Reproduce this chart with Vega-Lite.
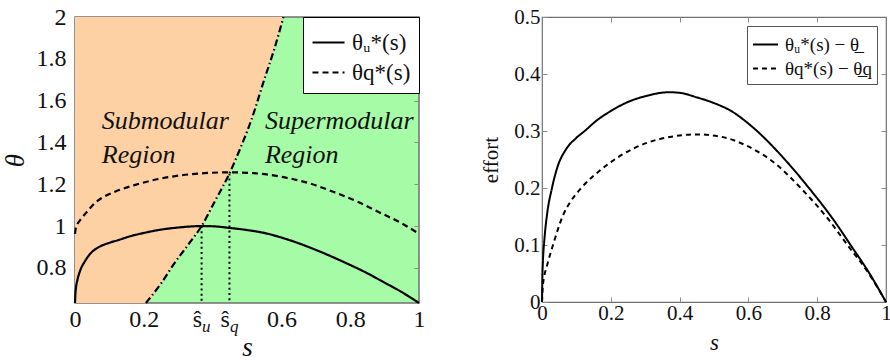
{
  "$schema": "https://vega.github.io/schema/vega-lite/v6.json",
  "padding": {"left": 0, "top": 4, "right": 0, "bottom": 0},
  "background": "white",
  "config": {
    "font": "Liberation Serif, DejaVu Serif, serif",
    "axis": {"labelFont": "Liberation Serif, DejaVu Serif, serif", "titleFont": "Liberation Serif, DejaVu Serif, serif", "labelColor": "#111", "titleColor": "#111", "grid": false, "domain": false, "tickColor": "#8c8c8c", "titleFontWeight": "normal"},
    "legend": {"labelFont": "Liberation Serif, DejaVu Serif, serif", "labelColor": "#111"},
    "text": {"font": "Liberation Serif, DejaVu Serif, serif"}
  },
  "datasets": {
    "curves": [
      {"s": 0, "series": "u", "effort": 0, "theta": 0.632},
      {"s": 0.001, "series": "u", "effort": 0.04, "theta": 0.672},
      {"s": 0.003, "series": "u", "effort": 0.075, "theta": 0.707},
      {"s": 0.007, "series": "u", "effort": 0.11, "theta": 0.742},
      {"s": 0.015, "series": "u", "effort": 0.155, "theta": 0.787},
      {"s": 0.029, "series": "u", "effort": 0.2, "theta": 0.832},
      {"s": 0.045, "series": "u", "effort": 0.237, "theta": 0.869},
      {"s": 0.07, "series": "u", "effort": 0.268, "theta": 0.9},
      {"s": 0.1, "series": "u", "effort": 0.288, "theta": 0.92},
      {"s": 0.124, "series": "u", "effort": 0.3, "theta": 0.932},
      {"s": 0.16, "series": "u", "effort": 0.319, "theta": 0.951},
      {"s": 0.2, "series": "u", "effort": 0.335, "theta": 0.967},
      {"s": 0.25, "series": "u", "effort": 0.351, "theta": 0.983},
      {"s": 0.3, "series": "u", "effort": 0.361, "theta": 0.993},
      {"s": 0.368, "series": "u", "effort": 0.368, "theta": 1.0},
      {"s": 0.4, "series": "u", "effort": 0.367, "theta": 0.999},
      {"s": 0.45, "series": "u", "effort": 0.359, "theta": 0.991},
      {"s": 0.5, "series": "u", "effort": 0.349, "theta": 0.981},
      {"s": 0.553, "series": "u", "effort": 0.334, "theta": 0.966},
      {"s": 0.6, "series": "u", "effort": 0.313, "theta": 0.945},
      {"s": 0.625, "series": "u", "effort": 0.3, "theta": 0.932},
      {"s": 0.7, "series": "u", "effort": 0.254, "theta": 0.886},
      {"s": 0.776, "series": "u", "effort": 0.2, "theta": 0.832},
      {"s": 0.85, "series": "u", "effort": 0.142, "theta": 0.774},
      {"s": 0.897, "series": "u", "effort": 0.1, "theta": 0.732},
      {"s": 0.95, "series": "u", "effort": 0.052, "theta": 0.684},
      {"s": 1, "series": "u", "effort": 0, "theta": 0.632},
      {"s": 0, "series": "q", "effort": 0, "theta": 0.963},
      {"s": 0.002, "series": "q", "effort": 0.025, "theta": 0.988},
      {"s": 0.006, "series": "q", "effort": 0.043, "theta": 1.006},
      {"s": 0.015, "series": "q", "effort": 0.065, "theta": 1.028},
      {"s": 0.032, "series": "q", "effort": 0.1, "theta": 1.063},
      {"s": 0.061, "series": "q", "effort": 0.152, "theta": 1.115},
      {"s": 0.085, "series": "q", "effort": 0.178, "theta": 1.141},
      {"s": 0.114, "series": "q", "effort": 0.2, "theta": 1.163},
      {"s": 0.173, "series": "q", "effort": 0.233, "theta": 1.196},
      {"s": 0.226, "series": "q", "effort": 0.256, "theta": 1.219},
      {"s": 0.309, "series": "q", "effort": 0.28, "theta": 1.243},
      {"s": 0.376, "series": "q", "effort": 0.29, "theta": 1.253},
      {"s": 0.45, "series": "q", "effort": 0.294, "theta": 1.257},
      {"s": 0.52, "series": "q", "effort": 0.29, "theta": 1.253},
      {"s": 0.592, "series": "q", "effort": 0.275, "theta": 1.238},
      {"s": 0.684, "series": "q", "effort": 0.24, "theta": 1.203},
      {"s": 0.752, "series": "q", "effort": 0.2, "theta": 1.163},
      {"s": 0.83, "series": "q", "effort": 0.147, "theta": 1.11},
      {"s": 0.888, "series": "q", "effort": 0.1, "theta": 1.063},
      {"s": 0.95, "series": "q", "effort": 0.05, "theta": 1.013},
      {"s": 1, "series": "q", "effort": 0, "theta": 0.963}
    ],
    "orange": [
      {"s": 0, "lo": 0.632, "hi": 2},
      {"s": 0.206, "lo": 0.632, "hi": 2},
      {"s": 0.25, "lo": 0.725, "hi": 2},
      {"s": 0.286, "lo": 0.815, "hi": 2},
      {"s": 0.33, "lo": 0.913, "hi": 2},
      {"s": 0.368, "lo": 1.0, "hi": 2},
      {"s": 0.407, "lo": 1.12, "hi": 2},
      {"s": 0.449, "lo": 1.252, "hi": 2},
      {"s": 0.48, "lo": 1.37, "hi": 2},
      {"s": 0.511, "lo": 1.5, "hi": 2},
      {"s": 0.552, "lo": 1.71, "hi": 2},
      {"s": 0.58, "lo": 1.85, "hi": 2},
      {"s": 0.606, "lo": 2.0, "hi": 2}
    ],
    "shat": [
      {"s": 0.368, "top": 1.0, "bottom": 0.632, "sub": "u"},
      {"s": 0.449, "top": 1.252, "bottom": 0.632, "sub": "q"}
    ],
    "regions": [
      {"s": 0.078, "th": 1.463, "t": "Submodular"},
      {"s": 0.078, "th": 1.303, "t": "Region"},
      {"s": 0.552, "th": 1.463, "t": "Supermodular"},
      {"s": 0.552, "th": 1.303, "t": "Region"}
    ]
  },
  "resolve": {"scale": {"strokeDash": "independent"}, "legend": {"strokeDash": "independent"}},
  "spacing": 54,
  "hconcat": [
    {
      "width": 344,
      "height": 286,
      "view": {"fill": "#a6fba6", "stroke": "#707070", "strokeWidth": 1.5},
      "resolve": {"axis": {"x": "independent", "y": "independent"}},
      "layer": [
        {
          "data": {"name": "orange"},
          "mark": {"type": "area", "color": "#fdd1a3", "interpolate": "monotone"},
          "encoding": {
            "x": {"field": "s", "type": "quantitative", "scale": {"domain": [0, 1], "nice": false, "zero": false},
              "axis": {"title": "s", "values": [0, 0.2, 0.368, 0.449, 0.6, 0.8, 1],
                "labelExpr": "datum.value==0.368||datum.value==0.449?'ŝ':format(datum.value,'~g')",
                "labelAlign": {"condition": {"test": "datum.value==0.368||datum.value==0.449", "value": "right"}, "value": "center"},
                "ticks": false, "labelPadding": 4, "labelFontSize": 24, "titleFontSize": 27, "titleFontStyle": "italic", "titlePadding": 3, "labelFlush": false}},
            "y": {"field": "lo", "type": "quantitative", "scale": {"domain": [0.632, 2], "nice": false, "zero": false},
              "axis": {"title": "θ", "values": [0.8, 1, 1.2, 1.4, 1.6, 1.8, 2], "labelExpr": "format(datum.value,'~g')",
                "ticks": false, "labelPadding": 9, "labelFontSize": 24, "titleFontSize": 27, "titleFontStyle": "italic", "titlePadding": 7, "labelFlush": false}},
            "y2": {"field": "hi"}
          }
        },
        {
          "data": {"name": "orange"},
          "transform": [{"filter": "datum.s >= 0.2"}],
          "mark": {"type": "line", "color": "black", "strokeWidth": 2.2, "strokeDash": [7, 3, 1.5, 3], "interpolate": "monotone"},
          "encoding": {
            "x": {"field": "s", "type": "quantitative", "axis": null},
            "y": {"field": "lo", "type": "quantitative",
              "axis": {"orient": "right", "values": [0.8, 1, 1.2, 1.4, 1.6, 1.8], "labels": false, "ticks": true, "tickSize": -5, "title": null}}
          }
        },
        {
          "data": {"name": "shat"},
          "mark": {"type": "rule", "color": "black", "strokeWidth": 2, "strokeDash": [2, 3.2]},
          "encoding": {
            "x": {"field": "s", "type": "quantitative",
              "axis": {"orient": "bottom", "values": [0.368, 0.449], "labelExpr": "datum.value==0.368?'u':'q'", "ticks": false, "title": null,
                "labelAlign": "left", "labelFontSize": 17, "labelFontStyle": "italic", "labelPadding": 15, "labelFlush": false}},
            "y": {"field": "top", "type": "quantitative", "axis": null},
            "y2": {"field": "bottom"}
          }
        },
        {
          "data": {"name": "curves"},
          "mark": {"type": "line", "color": "black", "strokeWidth": 2.2, "interpolate": "monotone"},
          "encoding": {
            "x": {"field": "s", "type": "quantitative", "axis": null},
            "y": {"field": "theta", "type": "quantitative", "axis": null},
            "strokeDash": {"field": "series", "type": "nominal", "scale": {"domain": ["u", "q"], "range": [[1, 0], [6, 4]]},
              "legend": {"title": null, "orient": "top-right", "offset": 0, "labelExpr": "datum.value=='u'?'θᵤ*(s)':'θq*(s)'",
                "labelFontSize": 23, "symbolType": "stroke", "symbolSize": 1024, "symbolStrokeWidth": 2.2, "symbolStrokeColor": "black",
                "strokeColor": "black", "fillColor": "white", "padding": 8, "rowPadding": 0, "labelOffset": 6}}
          }
        },
        {
          "data": {"name": "regions"},
          "mark": {"type": "text", "align": "left", "baseline": "alphabetic", "fontSize": 26, "fontStyle": "italic", "color": "#111"},
          "encoding": {
            "x": {"field": "s", "type": "quantitative", "axis": null},
            "y": {"field": "th", "type": "quantitative", "axis": null},
            "text": {"field": "t", "type": "nominal"}
          }
        }
      ]
    },
    {
      "width": 344,
      "height": 285,
      "view": {"stroke": "#707070", "strokeWidth": 1.2},
      "resolve": {"axis": {"x": "independent", "y": "independent"}},
      "data": {"name": "curves"},
      "layer": [
        {
          "transform": [{"filter": "datum.series=='u'"}],
          "mark": {"type": "line", "color": "black", "strokeWidth": 2, "interpolate": "monotone"},
          "encoding": {
            "x": {"field": "s", "type": "quantitative", "scale": {"domain": [0, 1], "nice": false},
              "axis": {"title": "s", "values": [0, 0.2, 0.4, 0.6, 0.8, 1], "labelExpr": "format(datum.value,'~g')", "tickSize": -5,
                "labelPadding": 5, "labelFontSize": 21, "titleFontSize": 23, "titleFontStyle": "italic", "titlePadding": 8, "labelFlush": false}},
            "y": {"field": "effort", "type": "quantitative", "scale": {"domain": [0, 0.5], "nice": false},
              "axis": {"title": "effort", "values": [0, 0.1, 0.2, 0.3, 0.4, 0.5], "labelExpr": "format(datum.value,'~g')", "tickSize": -5,
                "labelPadding": 7, "labelFontSize": 21, "titleFontSize": 21, "titlePadding": 12, "labelFlush": false}},
            "strokeDash": {"field": "series", "type": "nominal", "scale": {"domain": ["u", "q"], "range": [[1, 0], [5, 4]]},
              "legend": {"title": null, "orient": "top-right", "offset": 9, "labelExpr": "datum.value=='u'?'θᵤ*(s) − θ̲':'θq*(s) − θ̲q'",
                "labelFontSize": 19, "symbolType": "stroke", "symbolSize": 625, "symbolStrokeWidth": 2, "symbolStrokeColor": "black",
                "strokeColor": "#555", "fillColor": "white", "padding": 5, "rowPadding": 0, "labelOffset": 6}}
          }
        },
        {
          "transform": [{"filter": "datum.series=='q'"}],
          "mark": {"type": "line", "color": "black", "strokeWidth": 2, "interpolate": "monotone"},
          "encoding": {
            "x": {"field": "s", "type": "quantitative",
              "axis": {"orient": "top", "values": [0.2, 0.4, 0.6, 0.8], "labels": false, "tickSize": -5, "title": null}},
            "y": {"field": "effort", "type": "quantitative",
              "axis": {"orient": "right", "values": [0.1, 0.2, 0.3, 0.4], "labels": false, "tickSize": -5, "title": null}},
            "strokeDash": {"field": "series", "type": "nominal", "scale": {"domain": ["u", "q"], "range": [[1, 0], [5, 4]]}}
          }
        }
      ]
    }
  ]
}
